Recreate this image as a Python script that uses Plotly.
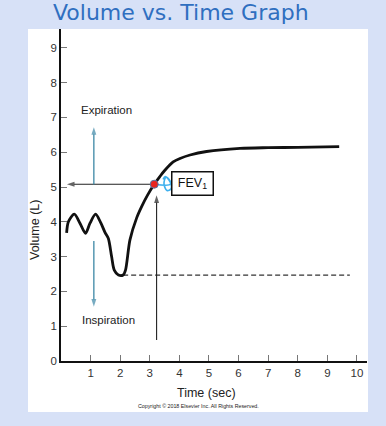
import plotly.graph_objects as go

# ---- data ----
time_s = [0.19, 0.25, 0.45, 0.64, 0.83, 0.98, 1.17, 1.35, 1.49, 1.60, 1.71, 1.80, 1.94,
          2.10, 2.18, 2.33, 2.56, 2.72, 2.92, 3.15, 3.34, 3.51, 3.79, 4.02, 4.36, 4.92, 6.05,
          7.00, 8.00, 9.40]
volume_l = [3.68, 4.00, 4.22, 3.96, 3.67, 3.96, 4.22, 3.96, 3.69, 3.52, 3.00, 2.61, 2.47,
            2.47, 2.61, 3.48, 4.12, 4.43, 4.76, 5.08, 5.30, 5.48, 5.72, 5.82, 5.92, 6.02, 6.11,
            6.13, 6.14, 6.16]
residual_t = [2.10, 9.76]
residual_v = [2.47, 2.47]
fev1_t = [3.15]
fev1_v = [5.08]
scribble_t = [3.15, 3.70, 3.55, 3.48, 3.58, 3.72, 3.68, 3.52, 3.45]
scribble_v = [5.08, 5.08, 5.28, 5.10, 4.90, 4.95, 5.18, 5.30, 5.22]
x_ticks = [1, 2, 3, 4, 5, 6, 7, 8, 9, 10]
y_ticks = [0, 1, 2, 3, 4, 5, 6, 7, 8, 9]

# arrows: (start_t, start_v, end_t, end_v, colour)
TEAL = "#3d87a6"
arrow_fev_left = (3.05, 5.08, 0.2, 5.08, "#222")
arrow_fev_up = (3.23, 0.6, 3.23, 4.76, "#222")
arrow_expiration = (1.11, 5.07, 1.11, 6.72, TEAL)
arrow_inspiration = (1.11, 3.45, 1.11, 1.56, TEAL)

W, H = 386, 426
BG = "#d7e1f7"
FONT = "Liberation Sans, Arial"

fig = go.Figure()
fig.add_trace(go.Scatter(x=residual_t, y=residual_v, mode="lines",
                         line=dict(color="#333", width=1.2, dash="5px,3px"), hoverinfo="skip"))
fig.add_trace(go.Scatter(x=time_s, y=volume_l, mode="lines", line_shape="spline",
                         line=dict(color="#111", width=2.8, smoothing=0.8), hoverinfo="skip"))

for (t0, v0, t1, v1, col) in [arrow_fev_left, arrow_fev_up, arrow_expiration, arrow_inspiration]:
    wide = 1.3 if col == TEAL else 1.1
    fig.add_trace(go.Scatter(x=[t0, t1], y=[v0, v1], mode="lines+markers",
                             line=dict(color=col, width=wide),
                             marker=dict(symbol="arrow", size=[0, 8], angleref="previous",
                                         color=col, line=dict(width=0)),
                             hoverinfo="skip"))

fig.add_trace(go.Scatter(x=scribble_t, y=scribble_v, mode="lines", line_shape="spline",
                         line=dict(color="#3fb0ee", width=1.6), hoverinfo="skip"))
fig.add_trace(go.Scatter(x=fev1_t, y=fev1_v, mode="markers",
                         marker=dict(color="#e8231f", size=8, line=dict(color="#5577aa", width=1)),
                         hoverinfo="skip"))

ann = []
ann.append(dict(x=1.53, y=7.22, xref="x", yref="y", text="Expiration", showarrow=False,
                font=dict(family=FONT, size=11.5, color="#222")))
ann.append(dict(x=1.6, y=1.18, xref="x", yref="y", text="Inspiration", showarrow=False,
                font=dict(family=FONT, size=11.5, color="#222")))
# FEV1 box
ann.append(dict(x=4.44, y=5.09, xref="x", yref="y", text="FEV<sub>1</sub>", showarrow=False,
                width=38, height=20, borderpad=1, bordercolor="#111", borderwidth=1.5,
                bgcolor="white", font=dict(family=FONT, size=12.5, color="#111")))
# axis titles
ann.append(dict(x=35, y=H - 230, xref="paper", yref="paper", text="Volume (L)",
                showarrow=False, textangle=-90,
                font=dict(family=FONT, size=12.5, color="#222")))
ann.append(dict(x=206, y=H - 393, xref="paper", yref="paper", text="Time (sec)",
                showarrow=False, font=dict(family=FONT, size=12.5, color="#222")))
ann.append(dict(x=198, y=H - 406, xref="paper", yref="paper",
                text="Copyright © 2018 Elsevier Inc. All Rights Reserved.", showarrow=False,
                font=dict(family=FONT, size=5.3, color="#222")))
ann.append(dict(x=181, y=H - 12, xref="paper", yref="paper", text="Volume vs. Time Graph",
                showarrow=False, font=dict(family="DejaVu Sans", size=22, color="#2f6fc0")))

# convert pixel paper coords
ML, MR, MT, MB = 61, 19, 29, 65
PW, PH = W - ML - MR, H - MT - MB
for a in ann:
    if a.get("xref") == "paper":
        a["x"] = (a["x"] - ML) / PW
        a["y"] = (a["y"] - MB) / PH
        a["xanchor"] = "center"
        a["yanchor"] = "middle"

shapes = [dict(type="rect", xref="paper", yref="paper", layer="below",
               x0=(28 - ML) / PW, x1=(368 - ML) / PW,
               y0=((H - 412) - MB) / PH, y1=((H - 29) - MB) / PH,
               fillcolor="white", line=dict(width=0))]

axis_common = dict(ticks="inside", ticklen=6, tickcolor="#777", tickwidth=1, showline=True,
                   linecolor="#111", linewidth=1.5, showgrid=False, zeroline=False,
                   tickfont=dict(family=FONT, size=11.5, color="#333"))

fig.update_layout(
    width=W, height=H, margin=dict(l=ML, r=MR, t=MT, b=MB),
    paper_bgcolor=BG, plot_bgcolor="rgba(0,0,0,0)", showlegend=False,
    annotations=ann, shapes=shapes,
    xaxis=dict(range=[0, 10.34], tickvals=x_ticks, **axis_common),
    yaxis=dict(range=[0, 9.54], tickvals=y_ticks, **axis_common),
)

fig.write_html("out.html", config=dict(displayModeBar=False),
               post_script="document.body.style.margin='0';"
                           "document.body.style.background='" + BG + "';")
